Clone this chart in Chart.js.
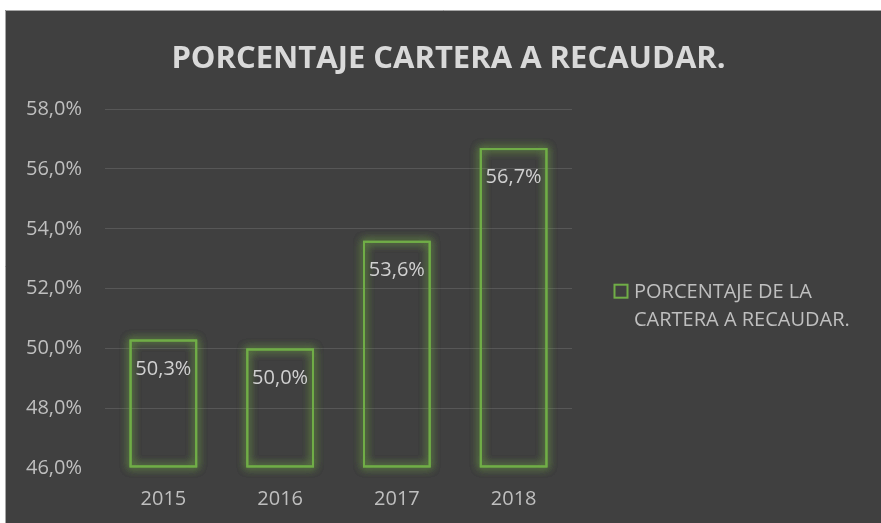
<!DOCTYPE html>
<html>
<head>
<meta charset="utf-8">
<script src="https://cdn.jsdelivr.net/npm/chart.js@4/dist/chart.umd.min.js"></script>
<style>
  html, body { margin: 0; padding: 0; background: #ffffff; }
  #wrap { width: 881px; height: 523px; position: relative; }
</style>
</head>
<body>
<div id="wrap"><canvas id="c" width="881" height="523"></canvas></div>
<script>
// ---- data ----
const categories = ['2015', '2016', '2017', '2018'];
const values = [50.3, 50.0, 53.6, 56.7];
const seriesLabel = 'PORCENTAJE DE LA CARTERA A RECAUDAR.';
const legendLines = ['PORCENTAJE DE LA', 'CARTERA A RECAUDAR.'];
const titleText = 'PORCENTAJE CARTERA A RECAUDAR.';
const yTickValues = [46, 48, 50, 52, 54, 56, 58];

// ---- styles ----
const BG = '#404040';
const GREEN = '#70ad47';
const TEXT = '#bfbfbf';
const LABEL = '#d0d0d0';
const FONT = "'Open Sans', 'DejaVu Sans', sans-serif";
const fmt = v => v.toFixed(1).replace('.', ',') + '%';

const backgroundPlugin = {
  id: 'panelBg',
  beforeDraw(chart) {
    const ctx = chart.ctx;
    ctx.save();
    ctx.fillStyle = '#ffffff';
    ctx.fillRect(0, 0, chart.width, chart.height);
    ctx.fillStyle = BG;
    ctx.fillRect(5, 10, chart.width - 5, chart.height - 10);
    ctx.strokeStyle = '#a6a6a6';
    ctx.lineWidth = 1;
    ctx.beginPath();
    ctx.moveTo(5.5, chart.height);
    ctx.lineTo(5.5, 10.5);
    ctx.lineTo(chart.width, 10.5);
    ctx.stroke();
    ctx.restore();
  }
};

const glowPlugin = {
  id: 'barGlow',
  beforeDatasetsDraw(chart) {
    const ctx = chart.ctx;
    const meta = chart.getDatasetMeta(0);
    ctx.save();
    ctx.strokeStyle = 'rgba(112,173,71,0.6)';
    ctx.shadowColor = 'rgba(120,180,70,1)';
    ctx.shadowBlur = 9;
    ctx.lineWidth = 2;
    meta.data.forEach(bar => {
      const p = bar.getProps(['x', 'y', 'base', 'width'], true);
      const l = p.x - p.width / 2, t = p.y;
      const b = Math.min(p.base, chart.chartArea.bottom);
      for (let i = 0; i < 3; i++) {
        ctx.strokeRect(l + 1, t + 1, p.width - 2, b - t - 2);
      }
    });
    ctx.restore();
  }
};

const dataLabelPlugin = {
  id: 'dataLabels',
  afterDatasetsDraw(chart) {
    const ctx = chart.ctx;
    const meta = chart.getDatasetMeta(0);
    ctx.save();
    ctx.fillStyle = LABEL;
    ctx.font = "20px " + FONT;
    ctx.textAlign = 'center';
    ctx.textBaseline = 'middle';
    meta.data.forEach((bar, i) => {
      const p = bar.getProps(['x', 'y'], true);
      ctx.fillText(fmt(values[i]), p.x, p.y + 29.5);
    });
    ctx.restore();
  }
};

const legendPlugin = {
  id: 'sideLegend',
  afterDraw(chart) {
    const ctx = chart.ctx;
    const a = chart.chartArea;
    const bx = a.right + 42.5, by = a.top + 175.5;
    ctx.save();
    ctx.strokeStyle = GREEN;
    ctx.lineWidth = 2;
    ctx.strokeRect(bx, by, 13, 13);
    ctx.fillStyle = TEXT;
    ctx.font = "20px " + FONT;
    ctx.textAlign = 'left';
    ctx.textBaseline = 'middle';
    legendLines.forEach((line, i) => {
      ctx.fillText(line, a.right + 62, a.top + 183 + i * 28);
    });
    ctx.restore();
  }
};

new Chart(document.getElementById('c'), {
  type: 'bar',
  data: {
    labels: categories,
    datasets: [{
      label: seriesLabel,
      data: values,
      base: 46,
      backgroundColor: 'rgba(0,0,0,0)',
      borderColor: GREEN,
      borderWidth: 2,
      borderSkipped: false,
      categoryPercentage: 1,
      barPercentage: 0.58
    }]
  },
  options: {
    responsive: false,
    animation: false,
    devicePixelRatio: 1,
    layout: { padding: { left: 16, right: 0, top: 0, bottom: 0 } },
    plugins: {
      legend: { display: false },
      tooltip: { enabled: false },
      title: {
        display: true,
        text: titleText,
        color: '#d9d9d9',
        font: { family: FONT, size: 31, weight: 'bold', lineHeight: 1.2 },
        padding: { top: 41, bottom: 31 }
      }
    },
    scales: {
      x: {
        grid: { display: false },
        border: { display: false },
        ticks: { color: TEXT, font: { family: FONT, size: 20 }, padding: 11 },
        afterFit(s) { s.height = 55; }
      },
      y: {
        min: 46,
        max: 58,
        afterBuildTicks(s) { s.ticks = yTickValues.map(v => ({ value: v })); },
        grid: {
          drawTicks: false,
          color: c => (c.tick && c.tick.value === 46) ? 'rgba(0,0,0,0)' : '#575757',
          lineWidth: 1
        },
        border: { display: false },
        ticks: { color: TEXT, font: { family: FONT, size: 20 }, padding: 23, callback: v => fmt(v) },
        afterFit(s) { s.width = 89; }
      },
      spacer: {
        type: 'linear',
        position: 'right',
        display: true,
        grid: { display: false },
        border: { display: false },
        ticks: { display: false },
        afterFit(s) { s.width = 309; }
      }
    }
  },
  plugins: [backgroundPlugin, glowPlugin, dataLabelPlugin, legendPlugin]
});
</script>
</body>
</html>
